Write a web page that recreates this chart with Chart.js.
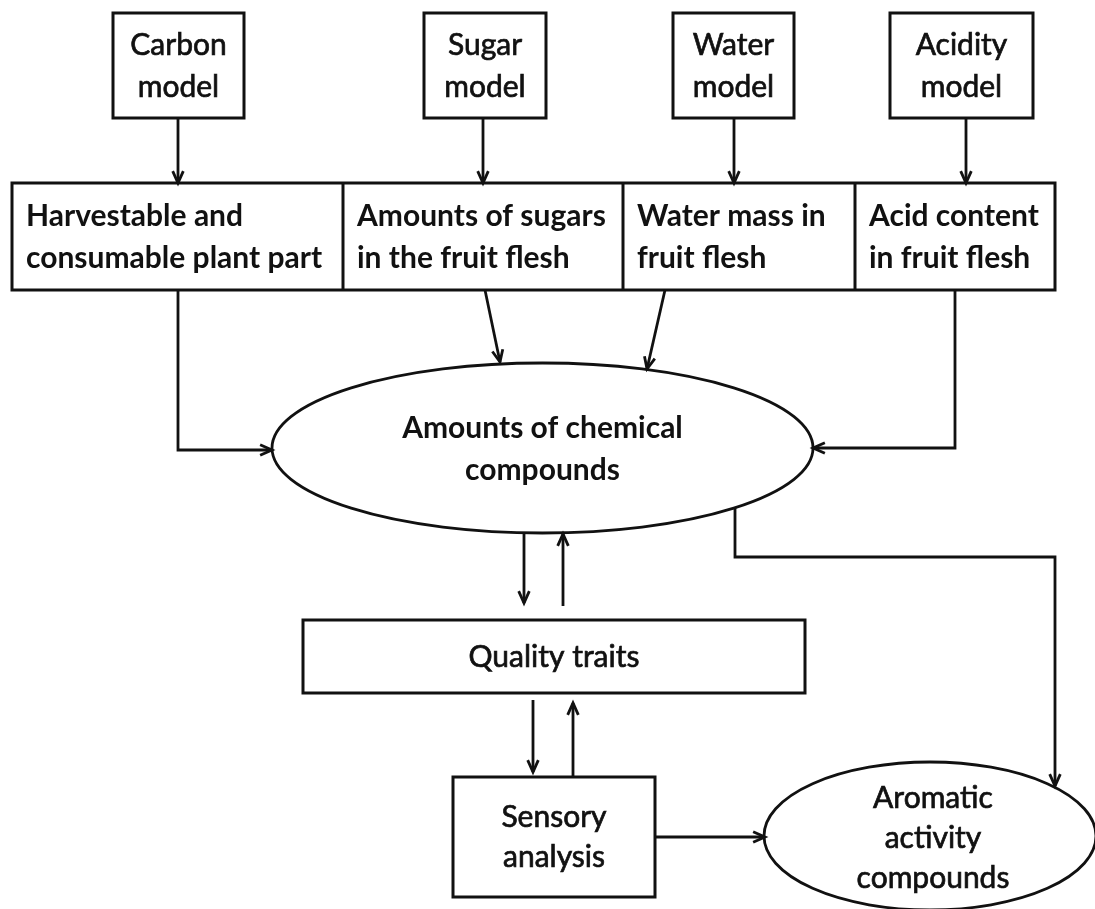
<!DOCTYPE html>
<html>
<head>
<meta charset="utf-8">
<script src="https://cdn.jsdelivr.net/npm/chart.js@4/dist/chart.umd.min.js"></script>
<style>
  html, body { margin: 0; padding: 0; background: #fff; }
  #wrap { width: 1095px; height: 909px; }
</style>
</head>
<body>
<div id="wrap"><canvas id="flow"></canvas></div>
<script>
// --- diagram content ---
const modelLabels = [['Carbon', 'model'], ['Sugar', 'model'], ['Water', 'model'], ['Acidity', 'model']];
const outputLabels = [
    ['Harvestable and', 'consumable plant part'],
    ['Amounts of sugars', 'in the fruit flesh'],
    ['Water mass in', 'fruit flesh'],
    ['Acid content', 'in fruit flesh']
];
const compoundLabel = ['Amounts of chemical', 'compounds'];
const qualityLabel = ['Quality traits'];
const sensoryLabel = ['Sensory', 'analysis'];
const aromaLabel = ['Aromatic', 'activity', 'compounds'];

// --- layout (diagram units = px of the original) ---
const modelBoxes = [[113, 13, 244, 118], [424, 13, 546, 118], [673, 13, 794, 118], [890, 13, 1033, 118]];
const modelLines = [55, 97];
const rowTop = 183, rowBottom = 290;
const rowEdges = [12, 343, 623, 855, 1055];
const rowLines = [226, 268];
const compoundEllipse = [542.5, 448, 270.5, 85];
const compoundLines = [438, 480];
const qualityBox = [303, 620, 805, 693];
const qualityLines = [667];
const sensoryBox = [453, 777, 655, 897];
const sensoryLines = [827, 867];
const aromaEllipse = [930, 836, 166, 74];
const aromaLines = [808, 848, 888];

// connectors: each is a polyline, arrow at the last point
const arrows = [
    [[178, 118], [178, 183]],
    [[483, 118], [483, 183]],
    [[734, 118], [734, 183]],
    [[966, 118], [966, 183]],
    [[178, 290], [178, 450], [272, 450]],
    [[485, 290], [500, 362]],
    [[665, 290], [647, 369]],
    [[955, 290], [955, 448], [813, 448]],
    [[524, 533], [524, 603]],
    [[563, 606], [563, 534]],
    [[533, 700], [533, 772]],
    [[573, 777], [573, 703]],
    [[655, 837], [765, 837]],
    [[735, 508], [735, 557], [1055, 557], [1055, 786]]
];

const FONT = 'Lato, "Open Sans", sans-serif';
const INK = '#111';

const flowPlugin = {
    id: 'flow',
    afterDatasetsDraw(chart) {
        const ctx = chart.ctx;
        const sx = chart.scales.x, sy = chart.scales.y;
        const px = v => sx.getPixelForValue(v);
        const py = v => sy.getPixelForValue(v);

        ctx.save();
        ctx.strokeStyle = INK;
        ctx.fillStyle = INK;

        function rect(b, w) {
            ctx.lineWidth = w;
            ctx.strokeRect(px(b[0]), py(b[1]), px(b[2]) - px(b[0]), py(b[3]) - py(b[1]));
        }
        function ellipse(e, w) {
            ctx.lineWidth = w;
            ctx.beginPath();
            ctx.ellipse(px(e[0]), py(e[1]), px(e[0] + e[2]) - px(e[0]), py(e[1] + e[3]) - py(e[1]), 0, 0, Math.PI * 2);
            ctx.stroke();
        }
        function text(lines, x, ys, size, weight, align, thicken) {
            ctx.font = weight + ' ' + size + 'px ' + FONT;
            ctx.textAlign = align;
            ctx.textBaseline = 'alphabetic';
            lines.forEach((t, i) => {
                ctx.fillText(t, px(x), py(ys[i]));
                if (thicken) {
                    ctx.lineWidth = thicken;
                    ctx.strokeText(t, px(x), py(ys[i]));
                }
            });
        }
        function arrow(pts) {
            ctx.lineWidth = 2.8;
            ctx.lineJoin = 'miter';
            ctx.beginPath();
            pts.forEach((p, i) => i ? ctx.lineTo(px(p[0]), py(p[1])) : ctx.moveTo(px(p[0]), py(p[1])));
            ctx.stroke();
            const a = pts[pts.length - 2], b = pts[pts.length - 1];
            const x1 = px(b[0]), y1 = py(b[1]);
            const ang = Math.atan2(y1 - py(a[1]), x1 - px(a[0]));
            const len = 13, spread = 0.42;
            ctx.lineWidth = 2.8;
            ctx.beginPath();
            ctx.moveTo(x1 - len * Math.cos(ang - spread), y1 - len * Math.sin(ang - spread));
            ctx.lineTo(x1, y1);
            ctx.lineTo(x1 - len * Math.cos(ang + spread), y1 - len * Math.sin(ang + spread));
            ctx.stroke();
        }

        // model boxes
        modelBoxes.forEach((b, i) => {
            rect(b, 3);
            text(modelLabels[i], (b[0] + b[2]) / 2, modelLines, 30, 'normal', 'center', 0.7);
        });

        // row of outputs
        ctx.lineWidth = 3;
        ctx.strokeRect(px(rowEdges[0]), py(rowTop), px(rowEdges[4]) - px(rowEdges[0]), py(rowBottom) - py(rowTop));
        rowEdges.slice(1, -1).forEach(x => {
            ctx.lineWidth = 3;
            ctx.beginPath();
            ctx.moveTo(px(x), py(rowTop));
            ctx.lineTo(px(x), py(rowBottom));
            ctx.stroke();
        });
        outputLabels.forEach((lab, i) => {
            text(lab, rowEdges[i] + 14, rowLines, 30, 'bold', 'left', 0);
        });

        // compounds ellipse
        ellipse(compoundEllipse, 2.8);
        text(compoundLabel, compoundEllipse[0], compoundLines, 30, 'bold', 'center', 0);

        // quality
        rect(qualityBox, 3);
        text(qualityLabel, (qualityBox[0] + qualityBox[2]) / 2, qualityLines, 30, 'normal', 'center', 0.7);

        // sensory
        rect(sensoryBox, 3);
        text(sensoryLabel, (sensoryBox[0] + sensoryBox[2]) / 2, sensoryLines, 30, 'normal', 'center', 0.7);

        // aromatic ellipse
        ellipse(aromaEllipse, 2.8);
        text(aromaLabel, aromaEllipse[0] + 3, aromaLines, 30, 'normal', 'center', 0.7);

        arrows.forEach(arrow);
        ctx.restore();
    }
};

new Chart(document.getElementById('flow'), {
    type: 'scatter',
    data: { datasets: [{ data: [], pointRadius: 0 }] },
    options: {
        animation: false,
        responsive: true,
        maintainAspectRatio: false,
        layout: { padding: 0 },
        events: [],
        plugins: { legend: { display: false }, tooltip: { enabled: false } },
        scales: {
            x: { type: 'linear', min: 0, max: 1095, display: false },
            y: { type: 'linear', min: 0, max: 909, reverse: true, display: false }
        }
    },
    plugins: [flowPlugin]
});
</script>
</body>
</html>
